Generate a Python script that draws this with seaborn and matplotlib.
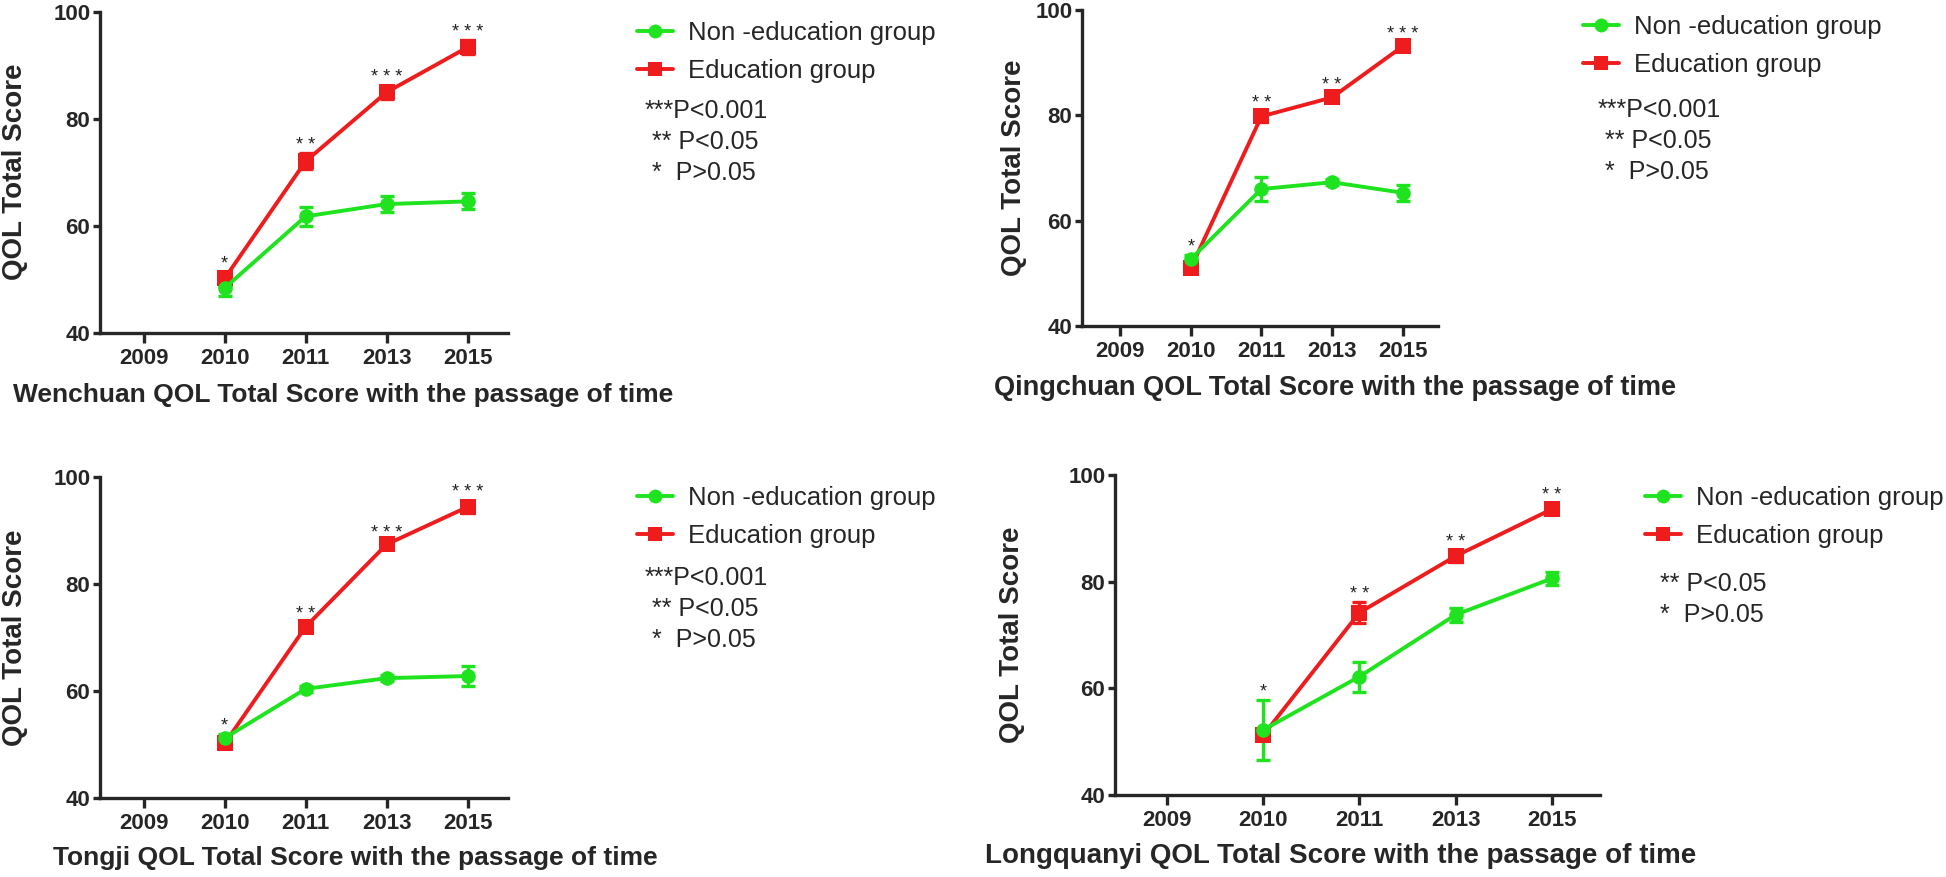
import numpy as np
import pandas as pd
import seaborn as sns
import matplotlib.pyplot as plt
from matplotlib.lines import Line2D

# categories
years = ["2009", "2010", "2011", "2013", "2015"]
data_years = ["2010", "2011", "2013", "2015"]
groups = ["Non -education group", "Education group"]

# Wenchuan
wenchuan_non = [48.4, 61.8, 64.1, 64.6]
wenchuan_non_err = [1.5, 1.8, 1.5, 1.5]
wenchuan_edu = [50.2, 72.1, 85.0, 93.4]
wenchuan_edu_err = [1.2, 1.5, 1.2, 1.3]
wenchuan_stars = ["*", "**", "***", "***"]

# Qingchuan
qingchuan_non = [52.7, 66.0, 67.3, 65.3]
qingchuan_non_err = [0.8, 2.3, 0.6, 1.5]
qingchuan_edu = [51.0, 79.8, 83.4, 93.1]
qingchuan_edu_err = [1.0, 1.0, 0.8, 0.8]
qingchuan_stars = ["*", "**", "**", "***"]

# Tongji
tongji_non = [51.2, 60.4, 62.4, 62.8]
tongji_non_err = [0.8, 0.6, 0.6, 1.8]
tongji_edu = [50.2, 72.0, 87.4, 94.4]
tongji_edu_err = [0.6, 0.8, 0.6, 1.2]
tongji_stars = ["*", "**", "***", "***"]

# Longquanyi
longq_non = [52.2, 62.2, 73.8, 80.6]
longq_non_err = [5.6, 2.8, 1.3, 1.2]
longq_edu = [51.2, 74.2, 84.8, 93.6]
longq_edu_err = [0.6, 1.9, 1.1, 1.0]
longq_stars = ["*", "**", "**", "**"]

sig_three = ["***P<0.001", " ** P<0.05", " *  P>0.05"]
sig_two = [" ** P<0.05", " *  P>0.05"]

GREEN = "#1ee31e"
RED = "#ee1c1c"

sns.set_style("ticks")
plt.rcParams["font.family"] = ["Liberation Sans", "DejaVu Sans"]

W, H = 1946, 877
fig = plt.figure(figsize=(W / 100, H / 100), dpi=100)


def fx(x):
    return x / W


def fy(y):
    return 1 - y / H


def draw_panel(box, non, non_err, edu, edu_err, stars, xlabel, xlab_xy, xlab_size,
               ylab_xy, leg_xy, sig_lines, sig_xy):
    left, top, right, bottom = box
    ax = fig.add_axes([fx(left), fy(bottom), (right - left) / W, (bottom - top) / H])

    pos = [years.index(y) for y in data_years]
    df = pd.DataFrame({
        "pos": pos * 2,
        "score": edu + non,
        "err": edu_err + non_err,
        "group": [groups[1]] * 4 + [groups[0]] * 4,
    })
    pal = {groups[0]: GREEN, groups[1]: RED}
    for g in [groups[1], groups[0]]:
        sub = df[df.group == g]
        ax.errorbar(sub.pos, sub.score, yerr=sub.err, fmt="none", ecolor=pal[g],
                    elinewidth=2.4, capsize=5, capthick=2.4, zorder=2)
    sns.lineplot(data=df[df.group == groups[1]], x="pos", y="score", color=RED,
                 marker="s", markersize=11, markeredgewidth=0, linewidth=2.8,
                 ax=ax, zorder=3)
    sns.lineplot(data=df[df.group == groups[0]], x="pos", y="score", color=GREEN,
                 marker="o", markersize=10.5, markeredgewidth=0, linewidth=2.8,
                 ax=ax, zorder=4)

    tops = np.maximum(np.add(edu, edu_err), np.add(non, non_err))
    for p, t, s in zip(pos, tops, stars):
        ax.annotate(" ".join(s), xy=(p, t), xytext=(0, 2.5), textcoords="offset points",
                    ha="center", va="baseline", fontsize=13, color="#222222")

    ax.set_xlim(-0.54, 4.5)
    ax.set_ylim(40, 100)
    ax.set_xticks(range(len(years)))
    ax.set_xticklabels(years)
    ax.set_yticks([40, 60, 80, 100])
    ax.set_xlabel("")
    ax.set_ylabel("")
    sns.despine(ax=ax)
    for sp in ["left", "bottom"]:
        ax.spines[sp].set_linewidth(2.4)
    ax.tick_params(axis="x", length=7, width=2.4, pad=4, labelsize=16)
    ax.tick_params(axis="y", length=5, width=2.4, pad=2, labelsize=16)
    for lab in ax.get_xticklabels() + ax.get_yticklabels():
        lab.set_fontweight("bold")

    fig.text(fx(xlab_xy[0]), fy(xlab_xy[1]), xlabel, ha="center", va="center",
             fontsize=xlab_size, fontweight="bold")
    fig.text(fx(ylab_xy[0]), fy(ylab_xy[1]), "QOL Total Score", rotation=90,
             ha="center", va="center", fontsize=20, fontweight="bold")

    handles = [Line2D([], [], color=GREEN, marker="o", lw=2.8, ms=10, mew=0),
               Line2D([], [], color=RED, marker="s", lw=2.8, ms=10, mew=0)]
    fig.legend(handles, groups, loc="upper left",
               bbox_to_anchor=(fx(leg_xy[0]), fy(leg_xy[1])),
               bbox_transform=fig.transFigure, frameon=False, fontsize=18.5,
               borderpad=0, borderaxespad=0, handlelength=1.4,
               handletextpad=0.6, labelspacing=0.55)

    for i, line in enumerate(sig_lines):
        fig.text(fx(sig_xy[0]), fy(sig_xy[1] + i * 31), line, ha="left",
                 va="center", fontsize=18)
    return ax


draw_panel((100, 12, 508, 333), wenchuan_non, wenchuan_non_err, wenchuan_edu,
           wenchuan_edu_err, wenchuan_stars,
           "Wenchuan QOL Total Score with the passage of time",
           (343, 395), 19, (15, 172), (637, 21), sig_three, (645, 111))

draw_panel((1082, 10, 1438, 326), qingchuan_non, qingchuan_non_err, qingchuan_edu,
           qingchuan_edu_err, qingchuan_stars,
           "Qingchuan QOL Total Score with the passage of time",
           (1335, 388), 19.5, (1014, 168), (1583, 15), sig_three, (1598, 110))

draw_panel((100, 477, 508, 798), tongji_non, tongji_non_err, tongji_edu,
           tongji_edu_err, tongji_stars,
           "Tongji QOL Total Score with the passage of time",
           (355, 858), 19, (15, 638), (637, 486), sig_three, (645, 578))

draw_panel((1115, 475, 1600, 795), longq_non, longq_non_err, longq_edu,
           longq_edu_err, longq_stars,
           "Longquanyi QOL Total Score with the passage of time",
           (1341, 856), 20, (1012, 635), (1645, 486), sig_two, (1653, 584))

fig.savefig("out.png", dpi=100)
